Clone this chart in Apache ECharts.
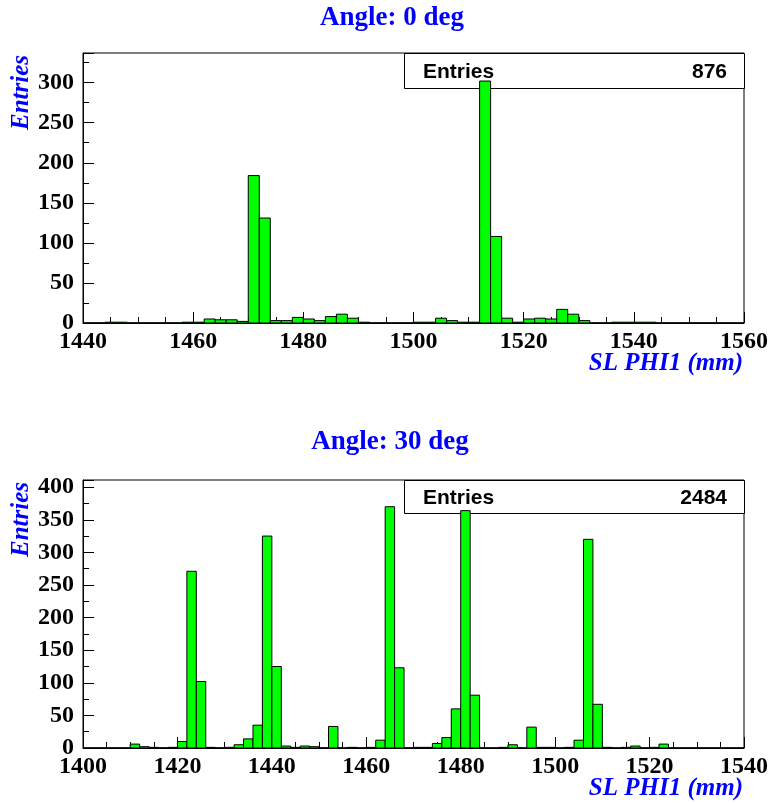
<!DOCTYPE html>
<html>
<head>
<meta charset="utf-8">
<script src="https://cdn.jsdelivr.net/npm/echarts@6/dist/echarts.min.js"></script>
<style>html,body{margin:0;padding:0;background:#fff}#c{width:771px;height:803px}</style>
</head>
<body>
<div id="c"></div>
<script>
// ---- data ----
const topTitle = 'Angle: 0 deg';
const bottomTitle = 'Angle: 30 deg';
const xTitle = 'SL PHI1 (mm)';
const yTitle = 'Entries';
const topEntries = 876;
const bottomEntries = 2484;
const binWidth = 2;
// Angle 0: bins of 2 mm from 1440 to 1560
const topStart = 1440;
const topCounts = [
  0, 0, 1, 1, 0, 0, 0, 0, 0, 1,
  1, 5, 4, 4, 2, 184, 131, 3, 3, 7,
  5, 3, 8, 11, 6, 1, 0, 0, 0, 0,
  1, 1, 6, 3, 1, 1, 302, 108, 6, 1,
  5, 6, 5, 17, 11, 3, 0, 0, 1, 1,
  1, 1, 0, 0, 0, 0, 0, 0, 0, 0
];
// Angle 30: bins of 2 mm from 1400 to 1540
const bottomStart = 1400;
const bottomCounts = [
  0, 0, 0, 0, 0, 6, 2, 1, 0, 1,
  10, 271, 102, 1, 0, 1, 5, 14, 35, 325,
  125, 3, 1, 3, 2, 0, 33, 0, 1, 0,
  1, 12, 370, 123, 0, 1, 1, 7, 16, 60,
  364, 81, 0, 0, 1, 5, 0, 32, 1, 1,
  0, 1, 12, 320, 67, 1, 0, 1, 3, 0,
  1, 6, 0, 0, 0, 0, 0, 0, 0, 0
];
const topXTicks = [1440, 1460, 1480, 1500, 1520, 1540, 1560];
const bottomXTicks = [1400, 1420, 1440, 1460, 1480, 1500, 1520, 1540];
const topYTicks = [0, 50, 100, 150, 200, 250, 300];
const bottomYTicks = [0, 50, 100, 150, 200, 250, 300, 350, 400];

// ---- build ----
function toBins(start, counts) {
  return counts.map((c, i) => [start + i * binWidth, start + (i + 1) * binWidth, c]);
}
function renderItem(params, api) {
  const p0 = api.coord([api.value(0), api.value(2)]);
  const p1 = api.coord([api.value(1), 0]);
  return {
    type: 'rect',
    shape: { x: p0[0], y: p0[1], width: p1[0] - p0[0], height: p1[1] - p0[1] },
    style: { fill: '#00ff00', stroke: '#000000', lineWidth: 1 }
  };
}
const serif = '"Liberation Serif", "Times New Roman", serif';
const sans = '"Liberation Sans", Arial, sans-serif';

function xAxis(gi, ticks) {
  return {
    type: 'value', gridIndex: gi,
    min: ticks[0], max: ticks[ticks.length - 1], interval: ticks[1] - ticks[0],
    axisLine: { show: true, onZero: false, lineStyle: { color: '#000', width: 1 } },
    axisTick: { show: true, inside: true, length: 11, lineStyle: { color: '#000' } },
    minorTick: { show: true, splitNumber: 4, length: 6, lineStyle: { color: '#000' } },
    splitLine: { show: false },
    axisLabel: { show: true, margin: 7, fontFamily: serif, fontWeight: 'bold', fontSize: 24, color: '#000', showMaxLabel: true, showMinLabel: true,
      formatter: v => (ticks.indexOf(v) >= 0 ? String(v) : '') }
  };
}
function yAxis(gi, ticks, max) {
  return {
    type: 'value', gridIndex: gi,
    min: 0, max: max, interval: ticks[1] - ticks[0],
    axisLine: { show: true, onZero: false, lineStyle: { color: '#000', width: 1 } },
    axisTick: { show: true, inside: true, length: 11, lineStyle: { color: '#000' } },
    minorTick: { show: true, splitNumber: 2, length: 6, lineStyle: { color: '#000' } },
    splitLine: { show: false },
    axisLabel: { show: true, margin: 9, fontFamily: serif, fontWeight: 'bold', fontSize: 24, color: '#000', showMaxLabel: false,
      formatter: v => (ticks.indexOf(v) >= 0 ? String(v) : '') }
  };
}

function textEl(text, x, y, opts) {
  return Object.assign({
    type: 'text', x: x, y: y, z: 10,
    style: Object.assign({ text: text, fill: '#000', fontFamily: serif, fontWeight: 'bold', fontSize: 23 }, opts.style || {})
  }, opts.el || {});
}

const option = {
  animation: false,
  backgroundColor: '#ffffff',
  grid: [
    { left: 83, top: 53, width: 662, height: 270, show: true, borderColor: '#000', borderWidth: 1, backgroundColor: 'transparent' },
    { left: 83, top: 480, width: 662, height: 268, show: true, borderColor: '#000', borderWidth: 1, backgroundColor: 'transparent' }
  ],
  xAxis: [xAxis(0, topXTicks), xAxis(1, bottomXTicks)],
  yAxis: [yAxis(0, topYTicks, 337), yAxis(1, bottomYTicks, 411)],
  series: [
    { type: 'custom', xAxisIndex: 0, yAxisIndex: 0, z: 5, renderItem: renderItem, encode: { x: [0, 1], y: 2 }, data: toBins(topStart, topCounts) },
    { type: 'custom', xAxisIndex: 1, yAxisIndex: 1, z: 5, renderItem: renderItem, encode: { x: [0, 1], y: 2 }, data: toBins(bottomStart, bottomCounts) }
  ],
  graphic: [
    // stats boxes (drawn under the histograms)
    { type: 'rect', z: 1, shape: { x: 404.5, y: 53.5, width: 340, height: 35 }, style: { fill: '#fff', stroke: '#000', lineWidth: 1 } },
    { type: 'rect', z: 1, shape: { x: 404.5, y: 480.5, width: 340, height: 33 }, style: { fill: '#fff', stroke: '#000', lineWidth: 1 } },
    textEl('Entries', 423, 72, { el: { z: 2 }, style: { fontFamily: sans, fontSize: 21, align: 'left', verticalAlign: 'middle' } }),
    textEl(String(topEntries), 727, 72, { el: { z: 2 }, style: { fontFamily: sans, fontSize: 21, align: 'right', verticalAlign: 'middle' } }),
    textEl('Entries', 423, 498, { el: { z: 2 }, style: { fontFamily: sans, fontSize: 21, align: 'left', verticalAlign: 'middle' } }),
    textEl(String(bottomEntries), 727, 498, { el: { z: 2 }, style: { fontFamily: sans, fontSize: 21, align: 'right', verticalAlign: 'middle' } }),
    // titles
    textEl(topTitle, 392, 18, { style: { fill: '#0000ff', fontSize: 27, align: 'center', verticalAlign: 'middle' } }),
    textEl(bottomTitle, 390, 442, { style: { fill: '#0000ff', fontSize: 27, align: 'center', verticalAlign: 'middle' } }),
    // axis titles
    textEl(xTitle, 743, 364, { style: { fill: '#0000ff', fontSize: 25, fontStyle: 'italic', align: 'right', verticalAlign: 'middle' } }),
    textEl(xTitle, 743, 789, { style: { fill: '#0000ff', fontSize: 25, fontStyle: 'italic', align: 'right', verticalAlign: 'middle' } }),
    textEl(yTitle, 22, 55, { el: { rotation: Math.PI / 2 }, style: { fill: '#0000ff', fontSize: 25, fontStyle: 'italic', align: 'right', verticalAlign: 'middle' } }),
    textEl(yTitle, 22, 482, { el: { rotation: Math.PI / 2 }, style: { fill: '#0000ff', fontSize: 25, fontStyle: 'italic', align: 'right', verticalAlign: 'middle' } })
  ]
};
const chart = echarts.init(document.getElementById('c'), null, { renderer: 'canvas' });
chart.setOption(option);
</script>
</body>
</html>
